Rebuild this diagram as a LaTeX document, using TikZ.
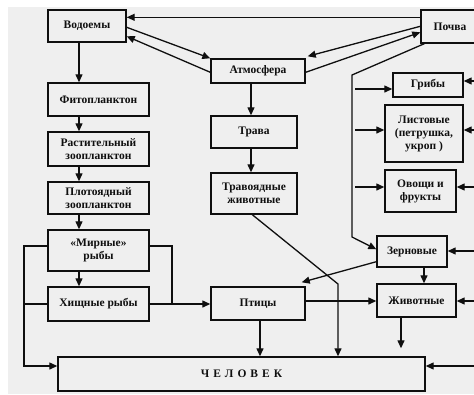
\documentclass[tikz,border=0pt]{standalone}
\usepackage{fontspec}
\setmainfont{Liberation Serif}
\usetikzlibrary{arrows.meta,calc}
\definecolor{bggray}{RGB}{239,239,239}
\definecolor{ink}{RGB}{15,15,15}
\newcommand\bx[6]{\node[box, minimum width={(#4-#2)*1pt}, minimum height={(#5-#3)*1pt}] (#1) at ({(#2+#4)/2},{(#3+#5)/2}) {#6};}
\begin{document}
\begin{tikzpicture}[x=1pt,y=-1pt,
  box/.style={draw=ink, line width=1.4pt, align=center, text=ink,
    font=\bfseries\fontsize{11.5}{13}\selectfont, inner sep=1pt},
  conn/.style={line width=1.3pt, draw=ink},
  arr/.style={conn, -{Triangle[length=8pt,width=7pt]}}]
\useasboundingbox (0,0) rectangle (474,394);
\clip (0,0) rectangle (474,394);
\fill[white] (0,0) rectangle (474,394);
\fill[bggray] (8,7) rectangle (474,394);

% boxes
\bx{vod}{48}{10}{126}{42}{Водоемы}
\bx{fito}{48}{83}{149}{116}{Фитопланктон}
\bx{rast}{48}{132}{149}{166}{Растительный\\зоопланктон}
\bx{plot}{48}{182}{149}{214}{Плотоядный\\зоопланктон}
\bx{mir}{48}{230}{149}{271}{«Мирные»\\рыбы}
\bx{hish}{48}{287}{149}{321}{Хищные рыбы}
\bx{atm}{211}{59}{305}{83}{Атмосфера}
\bx{trava}{211}{116}{297}{148}{Трава}
\bx{travo}{211}{173}{297}{214}{Травоядные\\животные}
\bx{ptic}{211}{287}{305}{320}{Птицы}
\bx{pochva}{421}{10}{479}{43}{Почва}
\bx{grib}{393}{73}{463}{97}{Грибы}
\bx{list}{385}{105}{463}{162}{Листовые\\(петрушка,\\укроп )}
\bx{ovo}{385}{170}{456}{212}{Овощи и\\фрукты}
\bx{zern}{377}{236}{447}{267}{Зерновые}
\bx{zhiv}{377}{284}{456}{317}{Животные}
\node[box, minimum width=367pt, minimum height=34pt, font=\bfseries\fontsize{11.5}{13}\selectfont] (chel) at (241.5,374)
  {Ч\hspace{4pt}Е\hspace{4pt}Л\hspace{4pt}О\hspace{4pt}В\hspace{4pt}Е\hspace{4pt}К};

% helper coordinates
\coordinate (c79) at (79,0);
\coordinate (c251) at (251,0);
\coordinate (c424) at (424,0);
\coordinate (c260) at (260,0);
\coordinate (c401) at (401,0);
\coordinate (y301) at (0,301);
\coordinate (b1) at (352,75);
\coordinate (b2) at (352,237);
\coordinate (b3) at (338,284);
\coordinate (m1) at (24,246);
\coordinate (m2) at (24,366);
\coordinate (m3) at (172,246);
\coordinate (g1) at (355,89);
\coordinate (g2) at (355,130);
\coordinate (g3) at (355,187);
\coordinate (r1) at (476,81);
\coordinate (r2) at (476,130);
\coordinate (r3) at (476,187);
\coordinate (r4) at (476,251);
\coordinate (r5) at (476,301);
\coordinate (r6) at (476,366);

% top connections
\draw[arr] ($(pochva.north west)+(0,8)$) -- ($(vod.north east)+(0,8)$);
\draw[arr] ($(vod.north east)+(0,18)$) -- (atm.north west);
\draw[arr] ($(atm.north west)+(0,14)$) -- ($(vod.north east)+(0,27)$);
\draw[arr] ($(pochva.north west)+(0,17)$) -- ($(atm.north east)+(2,-2)$);
\draw[arr] ($(atm.north east)+(0,14)$) -- ($(pochva.north west)+(0,23)$);

% left chain
\draw[arr] (vod.south -| c79) -- (fito.north -| c79);
\draw[arr] (fito.south -| c79) -- (rast.north -| c79);
\draw[arr] (rast.south -| c79) -- (plot.north -| c79);
\draw[arr] (plot.south -| c79) -- (mir.north -| c79);
\draw[arr] (mir.south -| c79) -- (hish.north -| c79);

% fish loops
\draw[arr] (mir.west |- m1) -- (m1) -- (m2) -- (m2 -| chel.west);
\draw[conn] (hish.west) -- (hish.west -| m1);
\draw[conn] (mir.east |- m3) -- (m3) -- (m3 |- hish.east);
\draw[arr] (hish.east) -- (hish.east -| ptic.west);

% middle column
\draw[arr] (atm.south -| c251) -- (trava.north -| c251);
\draw[arr] (trava.south -| c251) -- (travo.north -| c251);
\draw[arr] ($(travo.south west)+(42,0)$) -- (b3) -- (b3 |- chel.north);
\draw[arr] (ptic.south -| c260) -- (chel.north -| c260);
\draw[arr] (ptic.east |- y301) -- (zhiv.west |- y301);

% soil branch
\draw[arr] ($(pochva.south west)+(4,0)$) -- (b1) -- (b2) -- ($(zern.north west)+(0,14)$);
\draw[arr] (g1) -- (g1 -| grib.west);
\draw[arr] (g2) -- (g2 -| list.west);
\draw[arr] (g3) -- (g3 -| ovo.west);

% right side
\draw[arr] (r1) -- (r1 -| grib.east);
\draw[arr] (r2) -- (r2 -| list.east);
\draw[arr] (r3) -- (r3 -| ovo.east);
\draw[arr] (r4) -- (r4 -| zern.east);
\draw[arr] (r5) -- (r5 -| zhiv.east);
\draw[arr] (r6) -- (r6 -| chel.east);

\draw[arr] (zern.south -| c424) -- (zhiv.north -| c424);
\draw[arr] ($(zern.south west)+(0,-6)$) -- ($(ptic.north east)+(-4,-4)$);
\draw[arr, shorten >=8pt] (zhiv.south -| c401) -- (chel.north -| c401);
\end{tikzpicture}
\end{document}
